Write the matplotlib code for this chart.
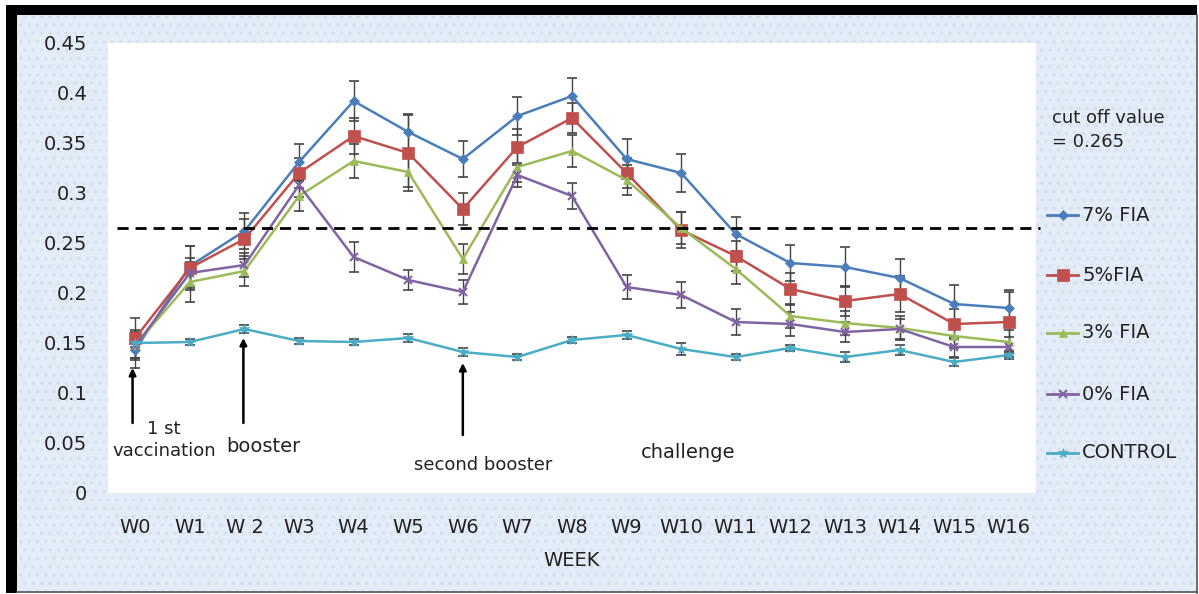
import matplotlib
matplotlib.use("Agg")
import matplotlib.pyplot as plt
from matplotlib.patches import Rectangle
from matplotlib.lines import Line2D

# ---------------- data ----------------
weeks = ["W0", "W1", "W 2", "W3", "W4", "W5", "W6", "W7", "W8", "W9",
         "W10", "W11", "W12", "W13", "W14", "W15", "W16"]

fia7 = [0.143, 0.227, 0.262, 0.331, 0.392, 0.361, 0.334, 0.377, 0.397, 0.334,
        0.320, 0.259, 0.230, 0.226, 0.215, 0.189, 0.185]
fia5 = [0.155, 0.225, 0.254, 0.320, 0.357, 0.340, 0.284, 0.346, 0.375, 0.320,
        0.263, 0.237, 0.204, 0.192, 0.199, 0.169, 0.171]
fia3 = [0.148, 0.211, 0.222, 0.297, 0.332, 0.321, 0.234, 0.326, 0.342, 0.313,
        0.265, 0.224, 0.177, 0.170, 0.165, 0.157, 0.151]
fia0 = [0.147, 0.220, 0.228, 0.308, 0.236, 0.213, 0.201, 0.318, 0.297, 0.206,
        0.198, 0.171, 0.169, 0.161, 0.164, 0.146, 0.146]
control = [0.150, 0.151, 0.164, 0.152, 0.151, 0.155, 0.141, 0.136, 0.153, 0.158,
           0.144, 0.136, 0.145, 0.136, 0.143, 0.131, 0.138]

err7 = [0.018, 0.020, 0.018, 0.018, 0.020, 0.018, 0.018, 0.019, 0.018, 0.020,
        0.019, 0.017, 0.018, 0.020, 0.019, 0.019, 0.018]
err5 = [0.020, 0.022, 0.020, 0.015, 0.018, 0.038, 0.016, 0.018, 0.015, 0.015,
        0.018, 0.015, 0.016, 0.015, 0.018, 0.015, 0.030]
err3 = [0.015, 0.020, 0.015, 0.015, 0.017, 0.015, 0.015, 0.015, 0.016, 0.015,
        0.016, 0.015, 0.012, 0.012, 0.012, 0.012, 0.012]
err0 = [0.012, 0.015, 0.012, 0.012, 0.015, 0.010, 0.012, 0.012, 0.013, 0.012,
        0.013, 0.013, 0.012, 0.010, 0.010, 0.010, 0.010]
errc = [0.004, 0.003, 0.004, 0.003, 0.003, 0.004, 0.004, 0.003, 0.003, 0.004,
        0.006, 0.003, 0.003, 0.005, 0.005, 0.004, 0.004]

series_labels = ["7% FIA", "5%FIA", "3% FIA", "0% FIA", "CONTROL"]
series_values = [fia7, fia5, fia3, fia0, control]
series_errors = [err7, err5, err3, err0, errc]
cutoff = 0.265

# ---------------- styles ----------------
colors = ["#4A7EBB", "#C0504D", "#9BBB59", "#8064A2", "#4BACC6"]
markers = ["D", "s", "^", "x", "*"]
msizes = [5, 8, 6, 6, 7]

plt.rcParams['font.family'] = ['DejaVu Sans']
plt.rcParams['hatch.linewidth'] = 1.5
W, H = 1199, 594
fig = plt.figure(figsize=(W / 100, H / 100), dpi=100)
fig.patch.set_facecolor("white")


def fx(px):
    return px / W


def fy(py):
    return 1 - py / H


# background panel with faint dotted texture
bg = Rectangle((fx(17), fy(592)), fx(1197 - 17), (592 - 15) / H,
               transform=fig.transFigure, facecolor="#E4ECF7",
               edgecolor="#D7E2F1", hatch="..", linewidth=0, zorder=0)
fig.add_artist(bg)
# outer frame
fig.add_artist(Rectangle((fx(6), fy(15)), fx(1197 - 6), 10 / H,
                         transform=fig.transFigure, facecolor="black",
                         edgecolor="none", zorder=1))
fig.add_artist(Rectangle((fx(6), fy(593)), fx(11), (593 - 6) / H,
                         transform=fig.transFigure, facecolor="black",
                         edgecolor="none", zorder=1))
fig.add_artist(Line2D([fx(1197), fx(1197)], [fy(15), fy(593)],
                      transform=fig.transFigure, color="#555555", lw=1.2))
fig.add_artist(Line2D([fx(17), fx(1197)], [fy(592), fy(592)],
                      transform=fig.transFigure, color="#555555", lw=1.2))

ax = fig.add_axes([fx(108), fy(493), fx(1036 - 108), (493 - 43) / H])
ax.set_facecolor("white")
ax.set_zorder(2)
x = list(range(len(weeks)))

for vals, errs in zip(series_values, series_errors):
    ax.errorbar(x, vals, yerr=errs, fmt="none", ecolor="#444444",
                elinewidth=1.0, capsize=3.5, capthick=1.2, zorder=3)
for vals, c, m, ms in zip(series_values, colors, markers, msizes):
    ax.plot(x, vals, color=c, marker=m, markersize=ms, lw=1.8,
            markeredgewidth=1.5 if m == "x" else 0.5, zorder=4)

ax.axhline(cutoff, xmin=(117 - 108) / 928, xmax=(1040 - 108) / 928,
           color="black", lw=2, dashes=(4, 2.5), clip_on=False, zorder=5)

ax.set_xlim(-0.5, len(weeks) - 0.5)
ax.set_ylim(0, 0.45)
yt = [0, 0.05, 0.1, 0.15, 0.2, 0.25, 0.3, 0.35, 0.4, 0.45]
ax.set_yticks(yt)
ax.set_yticklabels(["0", "0.05", "0.1", "0.15", "0.2", "0.25", "0.3", "0.35", "0.4", "0.45"])
ax.set_xticks(x)
ax.set_xticklabels(weeks)
ax.tick_params(axis="both", length=0, labelsize=14, colors="#222222")
ax.tick_params(axis="y", pad=15)
ax.tick_params(axis="x", pad=18)
for s in ax.spines.values():
    s.set_visible(False)
ax.set_xlabel("WEEK", fontsize=14, color="#222222", labelpad=10)

# annotations
arrow_kw = dict(arrowstyle="-|>", color="black", lw=1.8, mutation_scale=10,
                shrinkA=0, shrinkB=0)
ax.annotate("", xy=(-0.05, 0.125), xytext=(-0.05, 0.070), arrowprops=arrow_kw)
ax.annotate("", xy=(1.98, 0.155), xytext=(1.98, 0.070), arrowprops=arrow_kw)
ax.annotate("", xy=(6.0, 0.130), xytext=(6.0, 0.058), arrowprops=arrow_kw)
ax.text(0.53, 0.053, "1 st\nvaccination", ha="center", va="center",
        fontsize=13, color="#222222", linespacing=1.35)
ax.text(2.34, 0.046, "booster", ha="center", va="center", fontsize=14, color="#222222")
ax.text(6.37, 0.028, "second booster", ha="center", va="center", fontsize=13, color="#222222")
ax.text(10.13, 0.041, "challenge", ha="center", va="center", fontsize=14, color="#222222")

# cut off value note
fig.text(fx(1052), fy(130), "cut off value\n= 0.265", ha="left", va="center",
         fontsize=13, color="#222222", linespacing=1.4)

# legend (manual)
leg_y = [215, 275, 333, 394, 453]
for lab, c, m, ms, yy in zip(series_labels, colors, markers, msizes, leg_y):
    fig.add_artist(Line2D([fx(1047), fx(1078)], [fy(yy), fy(yy)],
                          transform=fig.transFigure, color=c, lw=2.0))
    fig.add_artist(Line2D([fx(1062.5)], [fy(yy)], transform=fig.transFigure,
                          color=c, marker=m, markersize=ms,
                          markeredgewidth=1.5 if m == "x" else 0.5))
    fig.text(fx(1082), fy(yy), lab, ha="left", va="center", fontsize=14, color="#222222")

fig.savefig("out.png", dpi=100)
